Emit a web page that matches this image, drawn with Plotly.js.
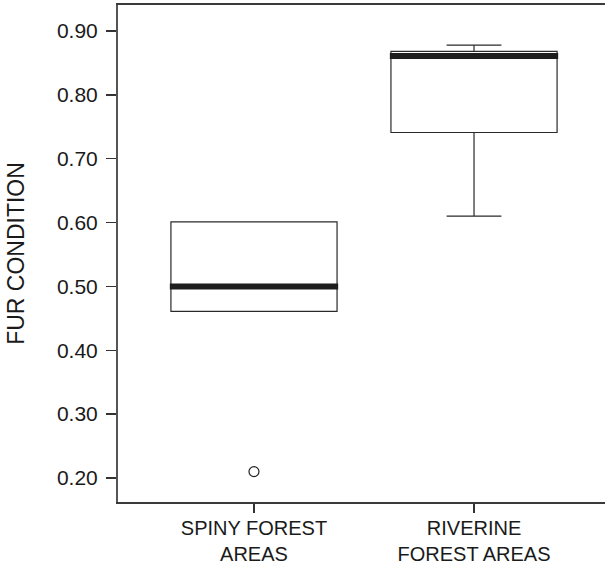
<!DOCTYPE html>
<html>
<head>
<meta charset="utf-8">
<script src="https://cdn.plot.ly/plotly-3.0.1.min.js"></script>
<style>
html,body{margin:0;padding:0;overflow:hidden;background:#fff;width:605px;height:566px;}
#chart{width:612px;height:566px;}
</style>
</head>
<body>
<div id="chart"></div>
<script>
// Data
const categories = ['SPINY FOREST<br>AREAS', 'RIVERINE<br>FOREST AREAS'];
const q1Values = [0.461, 0.741];
const medianValues = [0.500, 0.861];
const q3Values = [0.601, 0.868];
const lowerWhisker = [0.461, 0.610];
const upperWhisker = [0.601, 0.878];
const outlierCategories = ['SPINY FOREST<br>AREAS'];
const outlierValues = [0.210];
const yTickValues = [0.20, 0.30, 0.40, 0.50, 0.60, 0.70, 0.80, 0.90];

const boxTrace = {
  type: 'box',
  x: categories,
  q1: q1Values,
  median: medianValues,
  q3: q3Values,
  lowerfence: lowerWhisker,
  upperfence: upperWhisker,
  width: 0.755,
  whiskerwidth: 0.33,
  fillcolor: 'rgba(0,0,0,0)',
  line: {color: '#2a2a2a', width: 1.2},
  boxpoints: false,
  hoverinfo: 'skip',
  showlegend: false
};

// Thick median bars drawn as flat boxes at the median values
const medianTrace = {
  type: 'box',
  x: categories,
  q1: medianValues,
  median: medianValues,
  q3: medianValues,
  lowerfence: medianValues,
  upperfence: medianValues,
  width: 0.765,
  whiskerwidth: 0,
  fillcolor: 'rgba(0,0,0,0)',
  line: {color: '#1e1e1e', width: 6},
  boxpoints: false,
  hoverinfo: 'skip',
  showlegend: false
};

const outlierTrace = {
  type: 'scatter',
  mode: 'markers',
  x: outlierCategories,
  y: outlierValues,
  marker: {symbol: 'circle-open', size: 10, color: '#222222', line: {width: 1.2, color: '#222222'}},
  hoverinfo: 'skip',
  showlegend: false
};

const tickFont = {family: '"Liberation Sans", Arial, Helvetica, sans-serif', size: 21, color: '#1a1a1a'};
const xTickFont = {family: '"Liberation Sans", Arial, Helvetica, sans-serif', size: 20, color: '#1a1a1a'};
const titleFont = {family: '"Liberation Sans", Arial, Helvetica, sans-serif', size: 23, color: '#1a1a1a'};

const layout = {
  width: 612,
  height: 566,
  margin: {l: 118, r: 2, t: 5, b: 64},
  paper_bgcolor: '#ffffff',
  plot_bgcolor: '#ffffff',
  font: tickFont,
  boxmode: 'overlay',
  showlegend: false,
  xaxis: {
    type: 'category',
    range: [-0.618, 1.618],
    showline: true,
    mirror: true,
    linecolor: '#3a3a3a',
    linewidth: 2,
    ticks: 'outside',
    ticklen: 9,
    tickwidth: 1.5,
    tickcolor: '#333333',
    ticklabelstandoff: -2,
    showgrid: false,
    zeroline: false,
    tickfont: xTickFont
  },
  yaxis: {
    range: [0.1624, 0.9407],
    tickvals: yTickValues,
    tickformat: '.2f',
    showline: true,
    mirror: true,
    linecolor: '#555555',
    linewidth: 2,
    ticks: 'outside',
    ticklen: 10,
    tickwidth: 1.5,
    tickcolor: '#333333',
    ticklabelstandoff: 4,
    showgrid: false,
    zeroline: false,
    tickfont: tickFont,
    title: {text: 'FUR CONDITION', font: titleFont, standoff: 26}
  }
};

Plotly.newPlot('chart', [boxTrace, medianTrace, outlierTrace], layout, {displayModeBar: false, staticPlot: true});
</script>
</body>
</html>
